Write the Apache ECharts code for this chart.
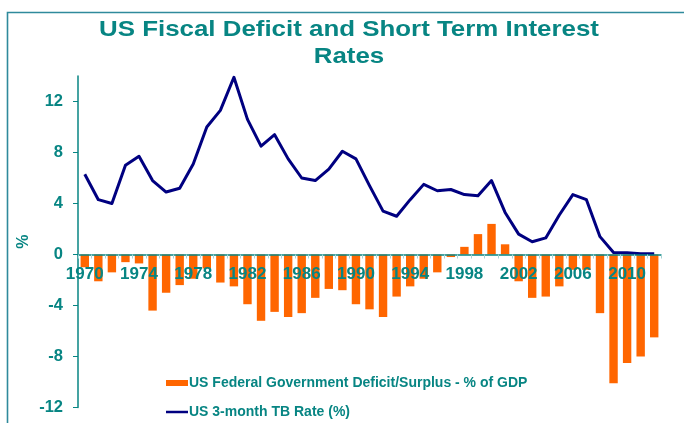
<!DOCTYPE html>
<html>
<head>
<meta charset="utf-8">
<script src="https://cdn.jsdelivr.net/npm/echarts@6/dist/echarts.min.js"></script>
<style>
  html, body { margin: 0; padding: 0; background: #ffffff; }
  #chart { width: 684px; height: 423px; }
</style>
</head>
<body>
<div id="chart"></div>
<script>
// Calendar years on the category axis
var years = ['1970','1971','1972','1973','1974','1975','1976','1977','1978','1979',
             '1980','1981','1982','1983','1984','1985','1986','1987','1988','1989',
             '1990','1991','1992','1993','1994','1995','1996','1997','1998','1999',
             '2000','2001','2002','2003','2004','2005','2006','2007','2008','2009',
             '2010','2011','2012'];

// Federal budget balance, % of GDP
var deficitSurplus = [-1.0,-2.1,-1.4,-0.6,-0.7,-4.4,-3.0,-2.4,-1.9,-1.1,
                      -2.2,-2.5,-3.9,-5.2,-4.5,-4.9,-4.6,-3.4,-2.7,-2.8,
                      -3.9,-4.3,-4.9,-3.3,-2.5,-1.9,-1.4,-0.2,0.6,1.6,
                      2.4,0.8,-2.1,-3.4,-3.3,-2.5,-1.2,-1.2,-4.6,-10.1,
                      -8.5,-8.0,-6.5];

// 3-month Treasury bill rate, %
var tbRate = [6.3,4.3,4.0,7.0,7.7,5.8,4.9,5.2,7.1,10.0,
              11.3,13.9,10.6,8.5,9.4,7.5,6.0,5.8,6.7,8.1,
              7.5,5.4,3.4,3.0,4.3,5.5,5.0,5.1,4.7,4.6,
              5.8,3.3,1.6,1.0,1.3,3.1,4.7,4.3,1.4,0.15,
              0.14,0.06,0.05];

// Value-axis tick labels
var yTicks = [-12, -8, -4, 0, 4, 8, 12];
var yMin = -12, yMax = 14;

var seriesNames = ['US Federal Government Deficit/Surplus - % of GDP', 'US 3-month TB Rate (%)'];
var titleLines = ['US Fiscal Deficit and Short Term Interest', 'Rates'];

var teal = '#078583';
var fontFamily = '"Liberation Sans", Arial, sans-serif';

// Plot box; the category axis is lifted from the bottom edge up to the zero line
var gridTop = 76, gridBottom = 15.5;
var plotHeight = 423 - gridTop - gridBottom;
var zeroLift = -plotHeight * (0 - yMin) / (yMax - yMin);

var chart = echarts.init(document.getElementById('chart'), null, { renderer: 'canvas' });

chart.setOption({
  animation: false,
  backgroundColor: '#ffffff',
  graphic: [
    {
      type: 'rect',
      silent: true,
      shape: { x: 7.5, y: 12.5, width: 720, height: 440 },
      style: { fill: 'none', stroke: '#2f8a9c', lineWidth: 1.6 }
    },
    {
      type: 'text',
      silent: true,
      x: 349,
      y: 16,
      scaleX: 1.15,
      style: {
        text: titleLines.join('\n'),
        x: 0, y: 0,
        textAlign: 'center',
        textVerticalAlign: 'top',
        font: 'bold 22.5px ' + fontFamily,
        lineHeight: 27,
        fill: teal
      }
    }
  ],
  grid: { left: 78, right: 23, top: gridTop, bottom: gridBottom, containLabel: false, outerBoundsMode: 'none' },
  legend: {
    orient: 'vertical',
    left: 166,
    top: 375,
    padding: 0,
    itemGap: 13,
    itemWidth: 22,
    itemHeight: 6,
    selectedMode: false,
    textStyle: { color: teal, fontWeight: 'bold', fontSize: 14, fontFamily: fontFamily, lineHeight: 16, padding: [0, 0, 0, -4] },
    data: [
      { name: seriesNames[0], icon: 'rect' },
      { name: seriesNames[1], icon: 'path://M0,0 L44,0 L44,5 L0,5 Z', itemStyle: { color: '#000080' } }
    ]
  },
  xAxis: {
    type: 'category',
    data: years,
    z: 10,
    position: 'bottom',
    offset: zeroLift,
    axisLine: { onZero: false, lineStyle: { color: teal, width: 1.5 } },
    axisTick: { show: true, interval: 0, length: 4, lineStyle: { color: '#a8d4d4', width: 1 } },
    axisLabel: {
      interval: 3,
      margin: 11,
      color: teal,
      fontWeight: 'bold',
      fontSize: 17,
      fontFamily: fontFamily
    },
    splitLine: { show: false }
  },
  yAxis: {
    type: 'value',
    min: yMin,
    max: yMax,
    interval: 4,
    name: '%',
    nameLocation: 'middle',
    nameRotate: 90,
    nameGap: 46,
    nameMoveOverlap: false,
    nameTextStyle: { color: teal, fontWeight: 'bold', fontSize: 16, fontFamily: fontFamily },
    axisLine: { show: true, lineStyle: { color: teal, width: 1.5 } },
    axisTick: { show: true, length: 5, customValues: yTicks, lineStyle: { color: teal, width: 1 } },
    axisLabel: {
      customValues: yTicks,
      margin: 15,
      color: teal,
      fontWeight: 'bold',
      fontSize: 16.5,
      fontFamily: fontFamily
    },
    splitLine: { show: false }
  },
  series: [
    {
      name: seriesNames[0],
      type: 'bar',
      data: deficitSurplus,
      barWidth: 8.4,
      itemStyle: { color: '#ff6600' },
      z: 2
    },
    {
      name: seriesNames[1],
      type: 'line',
      data: tbRate,
      symbol: 'none',
      lineStyle: { color: '#000080', width: 3, join: 'round' },
      itemStyle: { color: '#000080' },
      z: 3
    }
  ]
});
</script>
</body>
</html>
